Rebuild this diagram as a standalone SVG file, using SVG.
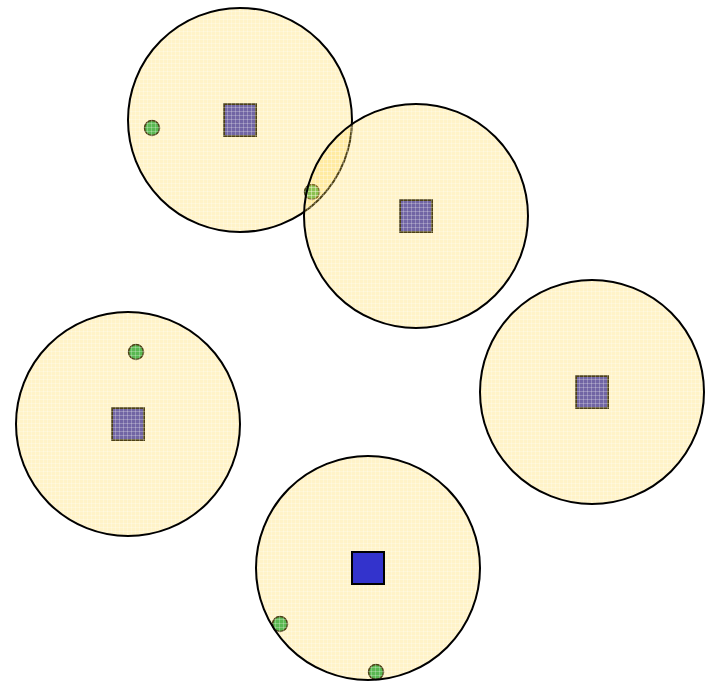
<svg xmlns="http://www.w3.org/2000/svg" width="714" height="682" viewBox="0 0 714 682">
<style>
.c{fill:url(#grid);stroke:#000;stroke-width:2}
.s{fill:#3333cc;stroke:#000;stroke-width:2}
.d{fill:#11aa55;stroke:#000;stroke-width:1.5}
</style>
<defs>
<pattern id="grid" width="4" height="4" patternUnits="userSpaceOnUse">
<rect width="4" height="4" fill="#ffd84a" fill-opacity="0.3"/>
<rect x="3" width="1" height="4" fill="#ffffff" fill-opacity="0.25"/>
<rect y="3" width="4" height="1" fill="#ffffff" fill-opacity="0.25"/>
</pattern>
</defs>
<rect width="714" height="682" fill="#fff"/>
<g id="items">
<rect class="s" x="224" y="104" width="32" height="32"/>
<rect class="s" x="400" y="200" width="32" height="32"/>
<rect class="s" x="112" y="408" width="32" height="32"/>
<rect class="s" x="576" y="376" width="32" height="32"/>
<circle class="d" cx="152" cy="128" r="7.5"/>
<circle class="d" cx="312" cy="192" r="7.5"/>
<circle class="d" cx="136" cy="352" r="7.5"/>
<circle class="d" cx="280" cy="624" r="7.5"/>
<circle class="d" cx="376" cy="672" r="7.5"/>
</g>
<g id="n1"><circle class="c" cx="240" cy="120" r="112"/></g>
<g id="n2"><circle class="c" cx="416" cy="216" r="112"/></g>
<g id="n3"><circle class="c" cx="128" cy="424" r="112"/></g>
<g id="n4"><circle class="c" cx="592" cy="392" r="112"/></g>
<g id="n5"><circle class="c" cx="368" cy="568" r="112"/></g>
<g id="n6"><rect class="s" x="352" y="552" width="32" height="32"/></g>
</svg>
